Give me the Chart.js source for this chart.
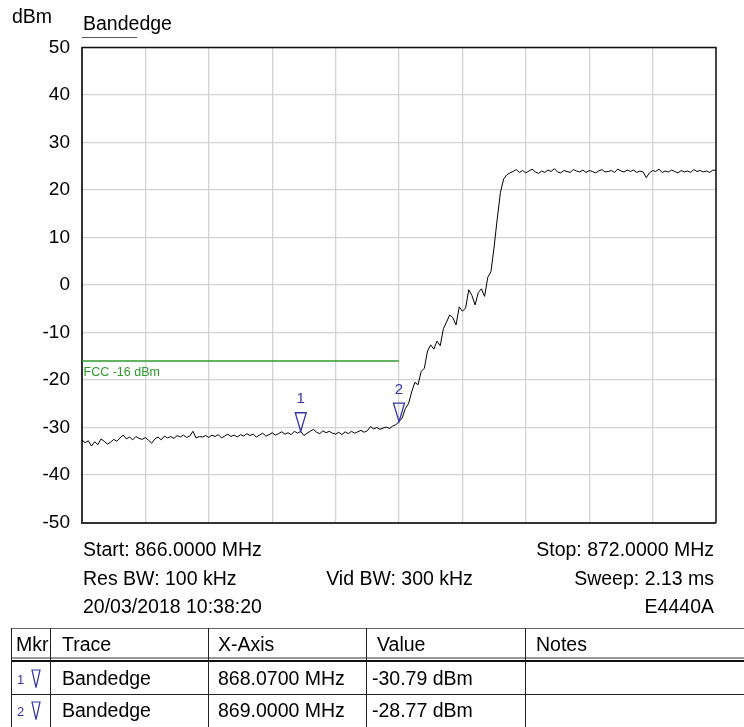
<!DOCTYPE html>
<html>
<head>
<meta charset="utf-8">
<script src="https://cdn.jsdelivr.net/npm/chart.js@4.4.1/dist/chart.umd.min.js"></script>
<style>
  html, body { margin:0; padding:0; background:#fff; }
  #wrap { position:relative; width:744px; height:727px; overflow:hidden; }
  #c { position:absolute; left:0; top:0; }
  .t { position:absolute; font:19.5px "Liberation Sans", Arial, sans-serif; line-height:22px; color:#000; white-space:nowrap; }
  .ln { position:absolute; }
  .mk { position:absolute; font:13px "Liberation Sans", Arial, sans-serif; line-height:16px; color:#3434a4; }
</style>
</head>
<body>
<div id="wrap">
  <canvas id="c" width="744" height="727"></canvas>

  <div class="t" style="left:12px; top:5.2px;">dBm</div>
  <div class="t" style="left:83px; top:11.5px;" id="traceTitle">Bandedge</div>
  <div class="ln" style="left:82px; top:36.5px; width:55px; height:1.6px; background:#555;"></div>

  <div class="t" style="left:83px; top:538.2px;">Start: 866.0000 MHz</div>
  <div class="t" style="right:30px; top:538.2px;">Stop: 872.0000 MHz</div>
  <div class="t" style="left:83px; top:567.2px;">Res BW: 100 kHz</div>
  <div class="t" style="left:399.5px; top:567.2px; transform:translateX(-50%);">Vid BW: 300 kHz</div>
  <div class="t" style="right:30px; top:567.2px;">Sweep: 2.13 ms</div>
  <div class="t" style="left:83px; top:595.2px;">20/03/2018 10:38:20</div>
  <div class="t" style="right:30px; top:595.2px;">E4440A</div>

  <!-- marker table -->
  <div class="ln" style="left:10.5px; top:627.5px; width:740px; height:1.5px; background:#666;"></div>
  <div class="ln" style="left:10.5px; top:657px; width:740px; height:1.5px; background:#999;"></div>
  <div class="ln" style="left:10.5px; top:660.3px; width:740px; height:1.3px; background:#111;"></div>
  <div class="ln" style="left:10.5px; top:693.5px; width:740px; height:1.4px; background:#222;"></div>
  <div class="ln" style="left:10.5px; top:627.5px; width:1.3px; height:110px; background:#222;"></div>
  <div class="ln" style="left:49.5px; top:627.5px; width:1.3px; height:110px; background:#222;"></div>
  <div class="ln" style="left:207.5px; top:627.5px; width:1.3px; height:110px; background:#222;"></div>
  <div class="ln" style="left:366px; top:627.5px; width:1.3px; height:110px; background:#222;"></div>
  <div class="ln" style="left:524.5px; top:627.5px; width:1.3px; height:110px; background:#222;"></div>

  <div class="t" style="left:16px; top:633.2px;">Mkr</div>
  <div class="t" style="left:62px; top:633.2px;">Trace</div>
  <div class="t" style="left:218px; top:633.2px;">X-Axis</div>
  <div class="t" style="left:377px; top:633.2px;">Value</div>
  <div class="t" style="left:536px; top:633.2px;">Notes</div>

  <div class="mk" style="left:17px; top:672px;">1</div>
  <svg class="ln" style="left:31px; top:669px;" width="11" height="20"><polygon points="1,1 9,1 5,18.5" fill="none" stroke="#3434a4" stroke-width="1.2"/></svg>
  <div class="t" style="left:62px; top:667.2px;">Bandedge</div>
  <div class="t" style="left:218px; top:667.2px;">868.0700 MHz</div>
  <div class="t" style="left:372px; top:667.2px;">-30.79 dBm</div>

  <div class="mk" style="left:17px; top:704px;">2</div>
  <svg class="ln" style="left:31px; top:701px;" width="11" height="20"><polygon points="1,1 9,1 5,18.5" fill="none" stroke="#3434a4" stroke-width="1.2"/></svg>
  <div class="t" style="left:62px; top:699.2px;">Bandedge</div>
  <div class="t" style="left:218px; top:699.2px;">869.0000 MHz</div>
  <div class="t" style="left:372px; top:699.2px;">-28.77 dBm</div>
</div>

<script>
// ---- data ----
const startMHz = 866.0;
const stopMHz = 872.0;
const stepMHz = 0.03;
const traceDbm = [
  -32.6, -33.2, -32.8, -33.9, -33.0, -33.6, -32.4, -32.9, -33.5, -33.1,
  -32.5, -32.9, -32.2, -31.6, -32.4, -32.0, -32.6, -31.9, -32.3, -32.5,
  -32.1, -32.7, -33.3, -32.4, -32.0, -32.6, -31.8, -32.2, -31.9, -32.3,
  -31.7, -32.0, -31.6, -32.1, -31.8, -30.8, -32.2, -31.9, -32.0, -31.7,
  -32.1, -31.6, -31.9, -31.5, -32.2, -31.8, -31.4, -31.9, -31.6, -32.0,
  -31.5, -31.8, -31.3, -31.7, -31.4, -32.0, -31.6, -31.2, -31.8, -31.5,
  -31.1, -31.6, -31.3, -30.9, -31.4, -31.1, -31.5, -30.8, -31.2, -30.79,
  -31.7, -31.2, -30.8, -30.4, -31.0, -31.3, -30.7, -31.1, -30.8, -31.2,
  -31.4, -31.0, -31.5, -30.9, -31.3, -30.8, -31.2, -30.9, -30.6, -31.0,
  -30.7, -29.8, -30.3, -30.0, -30.4, -30.1, -29.9, -30.2, -29.7, -29.4,
  -28.77, -28.0, -26.0, -25.0, -22.5, -20.5, -21.0, -18.2, -17.5, -13.9,
  -12.6, -13.5, -11.8, -12.8, -9.2, -7.8, -6.3, -6.9, -8.4, -4.6,
  -5.5, -4.9, -1.0, -2.2, -4.2, -1.6, -0.8, -2.4, 1.6, 2.8,
  8.0, 14.0, 19.5, 22.3, 23.2, 23.6,
  23.9, 24.3, 23.7, 24.1, 23.6, 24.0, 24.4, 23.8, 23.5, 24.0,
  23.7, 24.2, 23.9, 24.5, 23.8, 23.6, 24.1, 23.9, 23.7, 24.3,
  24.0, 23.8, 24.2, 23.7, 24.1, 23.9, 23.6, 24.0, 24.3, 23.8,
  23.9, 24.1, 23.7, 24.4, 24.0, 23.8, 24.2, 23.9, 24.2, 23.7,
  24.0, 23.8, 22.6, 23.6, 24.1, 23.9, 24.4, 23.7, 24.0, 23.8,
  24.2, 23.9, 23.6, 24.1, 23.8, 24.0, 23.7, 24.3, 23.9, 24.1,
  23.8, 24.0, 23.7, 24.2, 24.1
];
const yTicks = [50, 40, 30, 20, 10, 0, -10, -20, -30, -40, -50];
const xGridMHz = [866.0, 866.6, 867.2, 867.8, 868.4, 869.0, 869.6, 870.2, 870.8, 871.4, 872.0];
const fccLimitDbm = -16;
const fccEndMHz = 869.0;
const fccLabel = 'FCC -16 dBm';
const markerLabels = ['1', '2'];
const markerFreqs = [868.07, 869.0];
const markerValues = [-30.79, -28.77];

// ---- styles ----
const FONT = '"Liberation Sans", Arial, sans-serif';
const markerColor = '#3434a4';
const fccColor = '#2e9a2e';

const tracePoints = traceDbm.map((v, i) => ({ x: startMHz + i * stepMHz, y: v }));
const fccPoints = [{ x: startMHz, y: fccLimitDbm }, { x: fccEndMHz, y: fccLimitDbm }];

const overlay = {
  id: 'overlay',
  afterDatasetsDraw(chart) {
    const { ctx, chartArea: a, scales: { x, y } } = chart;
    ctx.save();
    ctx.fillStyle = fccColor;
    ctx.font = '12.5px ' + FONT;
    ctx.textAlign = 'left';
    ctx.textBaseline = 'alphabetic';
    ctx.fillText(fccLabel, x.getPixelForValue(startMHz) + 1.5, y.getPixelForValue(fccLimitDbm) + 14.5);
    markerFreqs.forEach((f, i) => {
      const px = x.getPixelForValue(f);
      const py = y.getPixelForValue(markerValues[i]);
      ctx.strokeStyle = markerColor;
      ctx.lineWidth = 1.3;
      ctx.beginPath();
      ctx.moveTo(px, py);
      ctx.lineTo(px - 5.5, py - 18.5);
      ctx.lineTo(px + 5.5, py - 18.5);
      ctx.closePath();
      ctx.stroke();
      ctx.fillStyle = markerColor;
      ctx.font = '15px ' + FONT;
      ctx.textAlign = 'center';
      ctx.fillText(markerLabels[i], px, py - 18.5 - 9.5);
    });
    ctx.strokeStyle = '#111';
    ctx.lineWidth = 1.5;
    ctx.beginPath();
    ctx.moveTo(a.left, a.top);
    ctx.lineTo(a.right, a.top);
    ctx.lineTo(a.right, a.bottom);
    ctx.stroke();
    ctx.restore();
  }
};

new Chart(document.getElementById('c'), {
  type: 'line',
  data: {
    datasets: [
      {
        label: 'Bandedge',
        data: tracePoints,
        borderColor: '#000',
        borderWidth: 1,
        pointRadius: 0,
        tension: 0,
        fill: false
      },
      {
        label: 'FCC',
        data: fccPoints,
        borderColor: fccColor,
        borderWidth: 1.5,
        pointRadius: 0,
        fill: false
      }
    ]
  },
  options: {
    responsive: false,
    animation: false,
    events: [],
    layout: { padding: { left: 0, top: 47.5, right: 28, bottom: 204.5 } },
    plugins: { legend: { display: false }, tooltip: { enabled: false } },
    scales: {
      x: {
        type: 'linear',
        min: startMHz,
        max: stopMHz,
        afterBuildTicks: (s) => { s.ticks = xGridMHz.map(v => ({ value: v })); },
        afterFit: (s) => { s.height = 0; },
        ticks: { display: false },
        grid: { color: '#d2d2d2', lineWidth: 1.3, drawTicks: false },
        border: { display: true, color: '#333', width: 2 }
      },
      y: {
        type: 'linear',
        min: -50,
        max: 50,
        afterBuildTicks: (s) => { s.ticks = yTicks.map(v => ({ value: v })); },
        afterFit: (s) => { s.width = 82; },
        ticks: {
          color: '#000',
          padding: 12,
          font: { family: FONT, size: 19 }
        },
        grid: { color: '#d2d2d2', lineWidth: 1.3, drawTicks: false },
        border: { display: true, color: '#333', width: 2 }
      }
    }
  },
  plugins: [overlay]
});
</script>
</body>
</html>
